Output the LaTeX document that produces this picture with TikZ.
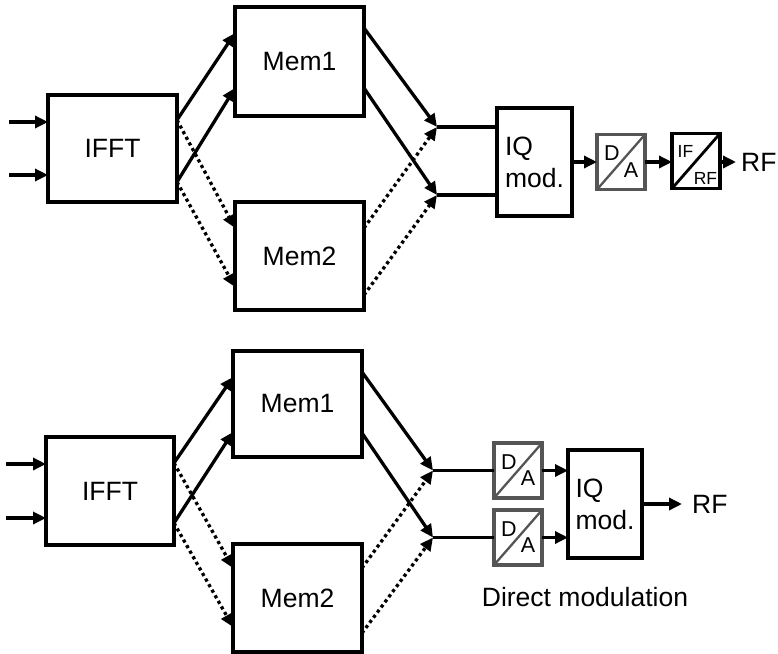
\documentclass[tikz,border=0pt]{standalone}
\usepackage{fontspec}
\setmainfont{Liberation Sans}
\usetikzlibrary{arrows.meta,calc}
\definecolor{dagray}{HTML}{555555}
\begin{document}
\begin{tikzpicture}[x=1pt,y=1pt,
  box/.style={draw=black,line width=3.3pt,inner sep=0pt,outer sep=0pt,font=\fontsize{26.5}{32}\selectfont},
  dabox/.style={draw=dagray,line width=3.3pt,inner sep=0pt,outer sep=0pt,minimum width=48pt,minimum height=55pt},
  conv/.style={draw=black,line width=3.3pt,inner sep=0pt,outer sep=0pt,minimum width=48pt,minimum height=55pt},
  lab/.style={font=\fontsize{26.5}{32}\selectfont,inner sep=0pt},
  small/.style={font=\fontsize{21.5}{24}\selectfont,inner sep=0pt},
  tiny/.style={font=\fontsize{17.5}{20}\selectfont,inner sep=0pt},
  arr/.style={line width=3.3pt,-{Triangle[length=13pt,width=12pt]}},
  darr/.style={line width=3.3pt,dash pattern=on 3.2pt off 3.2pt,-{Triangle[length=13pt,width=12pt]}},
  ln/.style={line width=3.3pt}]
\useasboundingbox (0,0) rectangle (778,-653);
% ================= TOP =================
\node[box,minimum width=129pt,minimum height=107pt] (ifftA) at (112.5,-148.5) {IFFT};
\node[box,minimum width=129pt,minimum height=109pt] (memAa) at (299.5,-61.5) {Mem1};
\node[box,minimum width=129pt,minimum height=108pt] (memAb) at (299.5,-256) {Mem2};
\node[box,minimum width=75pt,minimum height=108pt,align=left] (iqA) at (534.5,-162) {IQ\\mod.};
\node[dabox] (daA) at (621,-162) {};
\draw[dagray,line width=2.3pt] (daA.south west) -- (daA.north east);
\node[small] (daAd) at ($(daA.center)+(-9,8.5)$) {D};
\node[small] (daAa) at ($(daA.center)+(10,-8)$) {A};
\node[conv] (ifrf) at (696,-161) {};
\draw[line width=2.8pt] (ifrf.south west) -- (ifrf.north east);
\node[tiny] (ifrfi) at ($(ifrf.center)+(-10.5,9.5)$) {IF};
\node[tiny] (ifrfr) at ($(ifrf.center)+(9.5,-17)$) {RF};
\node[lab,anchor=west] (rfA) at (741,-162) {RF};
\coordinate (inAa) at (9,-122);
\coordinate (inAb) at (9,-175);
\coordinate (jAa) at (437,-127);
\coordinate (jAb) at (437,-195);
\draw[arr] (inAa) -- (inAa -| ifftA.west);
\draw[arr] (inAb) -- (inAb -| ifftA.west);
\draw[arr] ($(ifftA.north east)+(0,-25)$) -- ($(memAa.north west)+(0,-26)$);
\draw[arr] ($(ifftA.north east)+(0,-87)$) -- ($(memAa.north west)+(0,-81)$);
\draw[darr] ($(ifftA.north east)+(0,-25)$) -- ($(memAb.north west)+(0,-26)$);
\draw[darr] ($(ifftA.north east)+(0,-87)$) -- ($(memAb.north west)+(0,-85)$);
\draw[arr] ($(memAa.north east)+(0,-21)$) -- (jAa);
\draw[arr] ($(memAa.north east)+(0,-81)$) -- (jAb);
\draw[darr] ($(memAb.north east)+(0,-26)$) -- (jAa);
\draw[darr] ($(memAb.north east)+(0,-93)$) -- (jAb);
\draw[ln] (jAa) -- (jAa -| iqA.west);
\draw[ln] (jAb) -- (jAb -| iqA.west);
\draw[arr] (iqA.east) -- (daA.west);
\draw[arr] (daA.east) -- (ifrf.west |- daA.east);
\draw[arr] (ifrf.east |- rfA.west) -- ++(16,0);
% ================= BOTTOM =================
\node[box,minimum width=128pt,minimum height=108pt] (ifftB) at (110,-491) {IFFT};
\node[box,minimum width=129pt,minimum height=106pt] (memBa) at (297.5,-404) {Mem1};
\node[box,minimum width=129pt,minimum height=108pt] (memBb) at (297.5,-598) {Mem2};
\node[box,minimum width=74pt,minimum height=108pt,align=left] (iqB) at (605,-504) {IQ\\mod.};
\node[dabox] (daBa) at (518,-470.5) {};
\draw[dagray,line width=2.3pt] (daBa.south west) -- (daBa.north east);
\node[small] (daBad) at ($(daBa.center)+(-9,8.5)$) {D};
\node[small] (daBaa) at ($(daBa.center)+(10,-8)$) {A};
\node[dabox] (daBb) at (518,-537.5) {};
\draw[dagray,line width=2.3pt] (daBb.south west) -- (daBb.north east);
\node[small] (daBbd) at ($(daBb.center)+(-9,8.5)$) {D};
\node[small] (daBba) at ($(daBb.center)+(10,-8)$) {A};
\node[lab,anchor=west] (rfB) at (692,-504) {RF};
\node[lab] (dm) at (585,-597) {Direct modulation};
\coordinate (inBa) at (6,-464);
\coordinate (inBb) at (6,-518);
\coordinate (jBa) at (433,-470.5);
\coordinate (jBb) at (433,-537.5);
\draw[arr] (inBa) -- (inBa -| ifftB.west);
\draw[arr] (inBb) -- (inBb -| ifftB.west);
\draw[arr] ($(ifftB.north east)+(0,-26)$) -- ($(memBa.north west)+(0,-26)$);
\draw[arr] ($(ifftB.north east)+(0,-86)$) -- ($(memBa.north west)+(0,-81)$);
\draw[darr] ($(ifftB.north east)+(0,-26)$) -- ($(memBb.north west)+(0,-24)$);
\draw[darr] ($(ifftB.north east)+(0,-86)$) -- ($(memBb.north west)+(0,-83)$);
\draw[arr] ($(memBa.north east)+(0,-21)$) -- (jBa);
\draw[arr] ($(memBa.north east)+(0,-82)$) -- (jBb);
\draw[darr] ($(memBb.north east)+(0,-24)$) -- (jBa);
\draw[darr] ($(memBb.north east)+(0,-89)$) -- (jBb);
\draw[ln] (jBa) -- (daBa.west);
\draw[ln] (jBb) -- (daBb.west);
\draw[arr] (daBa.east) -- (daBa.east -| iqB.west);
\draw[arr] (daBb.east) -- (daBb.east -| iqB.west);
\draw[arr] (iqB.east) -- (rfB.west -| 682,0);
\end{tikzpicture}
\end{document}
